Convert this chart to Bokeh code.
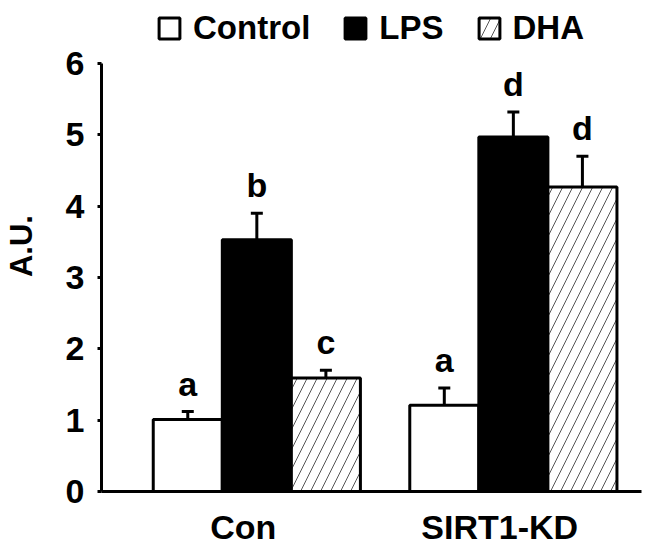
from bokeh.plotting import figure
from bokeh.models import (ColumnDataSource, FactorRange, Range1d, Legend, LegendItem,
                          Whisker, FixedTicker, TeeHead)
from bokeh.transform import dodge
from bokeh.core.properties import value
from bokeh.embed import file_html
from bokeh.resources import INLINE

# ---- data ----
groups = ["Con", "SIRT1-KD"]
series = ["Control", "LPS", "DHA"]
control_mean = [1.01, 1.21]
control_err = [0.11, 0.24]
lps_mean = [3.53, 4.97]
lps_err = [0.37, 0.35]
dha_mean = [1.59, 4.27]
dha_err = [0.11, 0.43]
control_letters = ["a", "a"]
lps_letters = ["b", "d"]
dha_letters = ["c", "d"]
y_ticks = [0, 1, 2, 3, 4, 5, 6]

FONT = "Liberation Sans"
BAR_W = 0.2692
SHIFT = 0.053

p = figure(x_range=FactorRange(factors=groups, range_padding=0.0525),
           y_range=Range1d(0, 6.883),
           width=650, height=549,
           output_backend="svg", toolbar_location=None,
           min_border_left=92, min_border_right=9,
           min_border_top=0, min_border_bottom=58)
p.outline_line_color = None
p.xgrid.grid_line_color = None
p.ygrid.grid_line_color = None
p.background_fill_color = "white"

# y axis (drawn only from 0 to 6)
p.yaxis.bounds = (0, 6)
p.yaxis.ticker = FixedTicker(ticks=y_ticks, minor_ticks=[])
p.yaxis.axis_line_width = 3
p.yaxis.major_tick_line_width = 3
p.yaxis.major_tick_out = 4
p.yaxis.major_tick_in = 0
p.yaxis.minor_tick_line_color = None
p.yaxis.major_label_text_font = FONT
p.yaxis.major_label_text_font_size = "34px"
p.yaxis.major_label_text_font_style = "bold"
p.yaxis.major_label_text_color = "black"
p.yaxis.major_label_standoff = 13
p.yaxis.axis_label = "A.U."
p.yaxis.axis_label_text_font = FONT
p.yaxis.axis_label_text_font_size = "31px"
p.yaxis.axis_label_text_font_style = "bold"
p.yaxis.axis_label_text_color = "black"
p.yaxis.axis_label_standoff = 24

# x axis
p.xaxis.axis_line_width = 3
p.xaxis.major_tick_line_color = None
p.xaxis.major_tick_out = 0
p.xaxis.major_tick_in = 0
p.xaxis.minor_tick_line_color = None
p.xaxis.major_label_text_font = FONT
p.xaxis.major_label_text_font_size = "34px"
p.xaxis.major_label_text_font_style = "bold"
p.xaxis.major_label_text_color = "black"
p.xaxis.major_label_standoff = 16

specs = [
    ("Control", control_mean, control_err, control_letters, SHIFT - BAR_W,
     dict(fill_color="white")),
    ("LPS", lps_mean, lps_err, lps_letters, SHIFT,
     dict(fill_color="black")),
    ("DHA", dha_mean, dha_err, dha_letters, SHIFT + BAR_W,
     dict(fill_color="white", hatch_pattern="/", hatch_color="#555555",
          hatch_weight=1, hatch_scale=20)),
]

items = []
for name, mean, err, letters, off, style in specs:
    src = ColumnDataSource(dict(group=groups, mean=mean,
                                top=[m + e for m, e in zip(mean, err)],
                                letter=letters))
    xs = dodge("group", off, range=p.x_range)
    r = p.vbar(x=xs, top="mean", bottom=0, width=BAR_W, source=src,
               line_color="black", line_width=3, **style)
    p.add_layout(Whisker(base=xs, upper="top", lower="mean", source=src,
                         line_color="black", line_width=3,
                         upper_head=TeeHead(size=12, line_width=3, line_color="black"),
                         lower_head=None))
    p.text(x=xs, y="top", text="letter", source=src,
           text_font=value(FONT), text_font_style="bold", text_font_size="34px",
           text_align="center", text_baseline="alphabetic", y_offset=-28,
           text_color="black")
    items.append(LegendItem(label=name, renderers=[r]))

legend = Legend(items=items, orientation="horizontal", location=(55, 444),
                glyph_width=26, glyph_height=26, label_height=26,
                label_text_font=FONT, label_text_font_size="33px",
                label_text_font_style="bold", label_text_color="black",
                label_standoff=11, spacing=32, padding=0, margin=0,
                border_line_color=None, background_fill_alpha=0)
p.add_layout(legend)

open("out.html", "w").write(file_html(p, INLINE))
